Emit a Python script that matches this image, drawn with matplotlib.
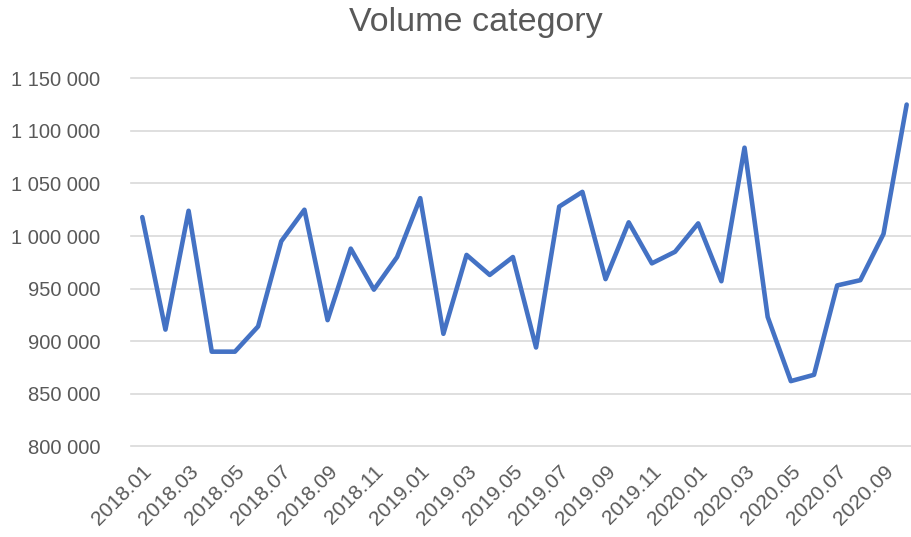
import matplotlib
matplotlib.use("Agg")
import matplotlib.pyplot as plt
import numpy as np

# 数据
months = [f"{y}.{m:02d}" for y in (2018, 2019, 2020) for m in range(1, 13)][:34]
volume = [1018000, 911000, 1024000, 890000, 890000, 914000, 995000, 1025000,
          920000, 988000, 949000, 980000, 1036000, 907000, 982000, 963000,
          980000, 894000, 1028000, 1042000, 959000, 1013000, 974000, 985000,
          1012000, 957000, 1084000, 923000, 862000, 868000, 953000, 958000,
          1002000, 1125000]
y_ticks = [800000, 850000, 900000, 950000, 1000000, 1050000, 1100000, 1150000]

LINE = "#4472C4"
GRID = "#D9D9D9"
TEXT = "#595959"
FONT = "Liberation Sans"

fig = plt.figure(figsize=(9.12, 5.37), dpi=100)
fig.patch.set_facecolor("white")
ax = fig.add_axes([0.1433, 0.1689, 0.8567, 0.6853])

x = np.arange(len(volume))
ax.plot(x, volume, color=LINE, linewidth=3.3, solid_joinstyle="round",
        solid_capstyle="round", zorder=3, clip_on=False)

ax.set_ylim(y_ticks[0], y_ticks[-1])
ax.set_xlim(-0.5, 33.23)
ax.set_yticks(y_ticks)
ax.set_yticklabels([f"{v:,}".replace(",", " ") for v in y_ticks],
                   fontsize=14.5, color=TEXT, family=FONT)
ax.set_xticks(x[::2])
ax.set_xticklabels(months[::2], rotation=45, ha="right", va="top",
                   rotation_mode="anchor", fontsize=15, color=TEXT, family=FONT)

ax.grid(True, axis="y", color=GRID, linewidth=1.2, zorder=0)
for gl in ax.get_ygridlines():
    gl.set_clip_on(False)
for s in ax.spines.values():
    s.set_visible(False)
ax.tick_params(axis="both", length=0)
ax.tick_params(axis="y", pad=22)
ax.tick_params(axis="x", pad=11)

fig.text(476 / 912, 1 - 22 / 537, "Volume category", ha="center", va="center",
         fontsize=24.5, color=TEXT, family=FONT)

fig.savefig("out.png", dpi=100, facecolor="white")
plt.close(fig)
